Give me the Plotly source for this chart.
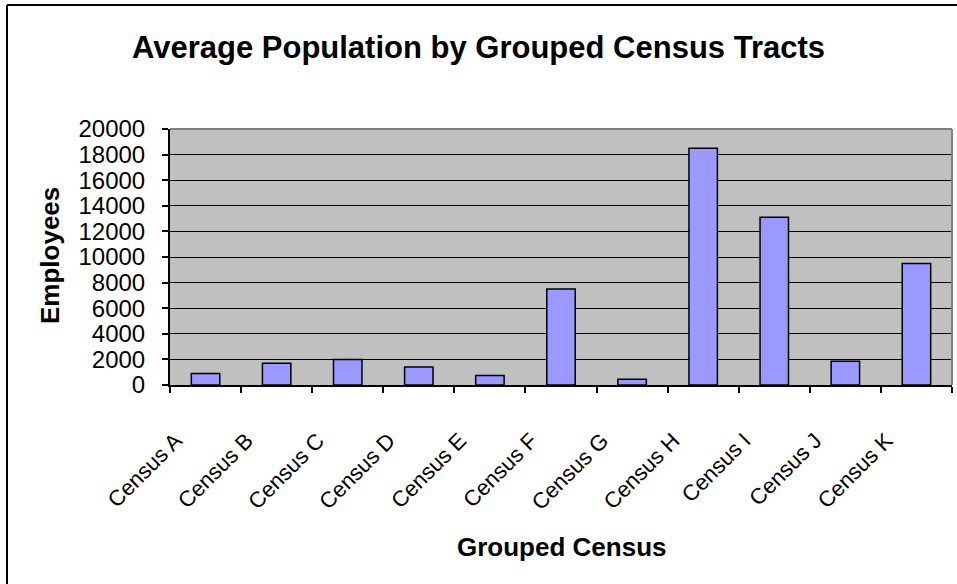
import plotly.graph_objects as go

# Average population per grouped census tract
categories = ["Census A", "Census B", "Census C", "Census D", "Census E", "Census F",
              "Census G", "Census H", "Census I", "Census J", "Census K"]
employees = [900, 1700, 2000, 1400, 750, 7500, 450, 18500, 13100, 1850, 9500]
y_ticks = list(range(0, 20001, 2000))

FONT = "Arial, Liberation Sans, sans-serif"

W, H = 957, 584
ML, MR, MT, MB = 170, 5, 129, 199
PW, PH = W - ML - MR, H - MT - MB


def px_x(px):
    return (px - ML) / PW


def px_y(py):
    return (H - MB - py) / PH


fig = go.Figure(
    go.Bar(
        x=categories,
        y=employees,
        width=0.4,
        marker=dict(color="#9999FF", line=dict(color="black", width=1.5)),
    )
)

fig.update_layout(
    width=W,
    height=H,
    margin=dict(l=ML, r=MR, t=MT, b=MB),
    paper_bgcolor="white",
    plot_bgcolor="#C0C0C0",
    showlegend=False,
    font=dict(family=FONT, color="black"),
    title=dict(
        text="<b>Average Population by Grouped Census Tracts</b>",
        font=dict(family=FONT, size=31, color="black"),
        x=0.5, xref="container", xanchor="center",
        y=1 - 47 / H, yref="container", yanchor="middle",
    ),
)

fig.update_xaxes(
    type="category",
    tickangle=-45,
    tickson="boundaries",
    ticks="outside",
    ticklen=6,
    tickwidth=2,
    tickcolor="black",
    showline=True,
    linecolor="black",
    linewidth=2,
    showgrid=False,
    tickfont=dict(family=FONT, size=22, color="black"),
    ticklabelstandoff=32,
    ticklabelshift=-30,
)

fig.update_yaxes(
    range=[0, 20000],
    tickvals=y_ticks,
    ticktext=[str(v) for v in y_ticks],
    ticks="outside",
    ticklen=6,
    tickwidth=2,
    tickcolor="black",
    showline=True,
    linecolor="black",
    linewidth=2,
    showgrid=True,
    gridcolor="black",
    gridwidth=1,
    zeroline=False,
    tickfont=dict(family=FONT, size=24, color="black"),
    ticklabelstandoff=12,
)

# Axis titles
fig.add_annotation(
    text="<b>Employees</b>", textangle=-90,
    xref="paper", yref="paper", x=px_x(50), y=px_y(256),
    xanchor="center", yanchor="middle",
    showarrow=False, font=dict(family=FONT, size=26, color="black"),
)
fig.add_annotation(
    text="<b>Grouped Census</b>",
    xref="paper", yref="paper", x=px_x(561), y=px_y(547),
    xanchor="center", yanchor="middle",
    showarrow=False, font=dict(family=FONT, size=26, color="black"),
)

# Gray plot-area frame on the top and right sides
fig.add_shape(type="line", xref="paper", yref="paper", x0=0, x1=1, y0=1, y1=1,
              line=dict(color="#808080", width=2))
fig.add_shape(type="line", xref="paper", yref="paper", x0=1, x1=1, y0=0, y1=1,
              line=dict(color="#808080", width=2))

# Chart border
fig.add_shape(type="line", xref="paper", yref="paper",
              x0=px_x(7), x1=px_x(W + 10), y0=px_y(5), y1=px_y(5),
              line=dict(color="black", width=2))
fig.add_shape(type="line", xref="paper", yref="paper",
              x0=px_x(7), x1=px_x(7), y0=px_y(5), y1=px_y(H + 10),
              line=dict(color="black", width=2))

fig.write_html("out.html")
